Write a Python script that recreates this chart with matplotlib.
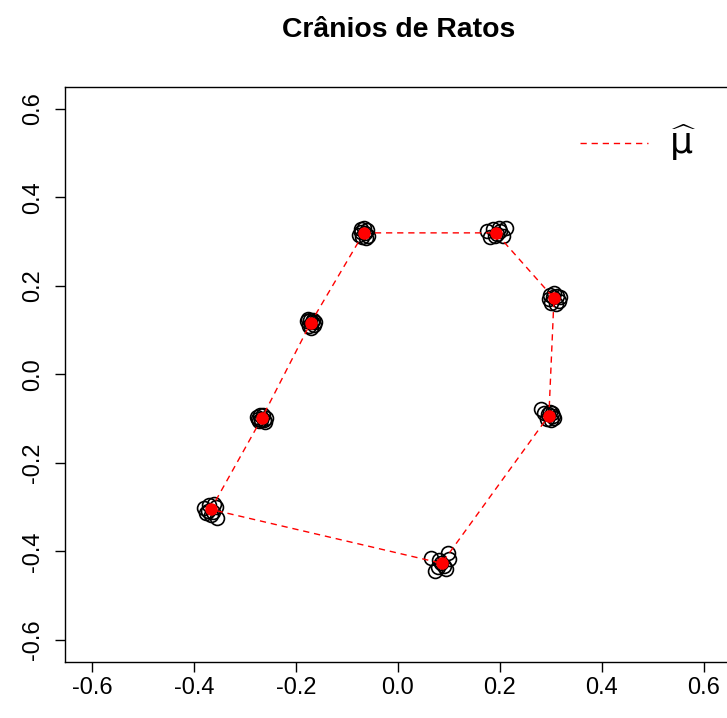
import matplotlib

matplotlib.use('Agg')

import matplotlib.pyplot as plt
import numpy as np

plt.rcParams['font.family'] = ['Liberation Sans', 'DejaVu Sans']

# coordenadas dos marcos anatomicos de cada cranio (um array por marco)
marco1_x = [-0.073, -0.066, -0.060, -0.076, -0.058, -0.070, -0.064, -0.072, -0.062]
marco1_y = [0.328, 0.332, 0.326, 0.316, 0.314, 0.310, 0.320, 0.322, 0.308]
marco2_x = [0.174, 0.180, 0.186, 0.194, 0.200, 0.206, 0.212, 0.190, 0.198]
marco2_y = [0.325, 0.310, 0.328, 0.318, 0.324, 0.312, 0.330, 0.312, 0.332]
marco3_x = [0.298, 0.312, 0.316, 0.300, 0.306, 0.296, 0.310, 0.304, 0.318]
marco3_y = [0.180, 0.178, 0.166, 0.162, 0.184, 0.170, 0.160, 0.174, 0.176]
marco4_x = [0.280, 0.286, 0.298, 0.304, 0.300, 0.292, 0.306, 0.294, 0.302]
marco4_y = [-0.078, -0.088, -0.084, -0.094, -0.104, -0.100, -0.098, -0.090, -0.088]
marco5_x = [0.064, 0.072, 0.078, 0.098, 0.100, 0.090, 0.084, 0.094, 0.080]
marco5_y = [-0.416, -0.444, -0.436, -0.404, -0.418, -0.432, -0.426, -0.440, -0.420]
marco6_x = [-0.380, -0.376, -0.370, -0.360, -0.356, -0.354, -0.366, -0.372, -0.362]
marco6_y = [-0.302, -0.314, -0.296, -0.292, -0.300, -0.324, -0.318, -0.308, -0.310]
marco7_x = [-0.276, -0.272, -0.264, -0.258, -0.260, -0.268, -0.270, -0.262, -0.274]
marco7_y = [-0.096, -0.106, -0.092, -0.098, -0.108, -0.102, -0.092, -0.104, -0.100]
marco8_x = [-0.178, -0.174, -0.166, -0.164, -0.170, -0.176, -0.168, -0.172, -0.162]
marco8_y = [0.120, 0.110, 0.124, 0.112, 0.106, 0.126, 0.118, 0.122, 0.118]

# forma media (mu chapeu)
media_x = [-0.067, 0.192, 0.306, 0.296, 0.086, -0.367, -0.267, -0.171]
media_y = [0.320, 0.320, 0.172, -0.093, -0.427, -0.305, -0.099, 0.117]

ticks = [-0.6, -0.4, -0.2, 0.0, 0.2, 0.4, 0.6]

todos_x = marco1_x + marco2_x + marco3_x + marco4_x + marco5_x + marco6_x + marco7_x + marco8_x
todos_y = marco1_y + marco2_y + marco3_y + marco4_y + marco5_y + marco6_y + marco7_y + marco8_y

fig = plt.figure(figsize=(7.27, 7.18), dpi=100)
ax = fig.add_axes([0.0894, 0.078, 0.916, 0.801])

ax.plot(todos_x, todos_y, 'o', mfc='none', mec='black', ms=10, mew=1.2, ls='none')

# poligono fechado ligando os marcos medios
px = media_x + media_x[:1]
py = media_y + media_y[:1]
ax.plot(px, py, color='red', lw=1.0, dashes=(4.5, 3.5))
ax.plot(media_x, media_y, 'o', color='red', ms=8, ls='none')

ax.set_xlim(-0.653, 0.653)
ax.set_ylim(-0.65, 0.65)
ax.set_xticks(ticks)
ax.set_yticks(ticks)
ax.set_xticklabels(['%.1f' % t if t != 0 else '0.0' for t in ticks])
ax.set_yticklabels(['%.1f' % t if t != 0 else '0.0' for t in ticks], rotation=90, va='center')
ax.tick_params(axis='both', direction='out', length=7, width=1, labelsize=17)
ax.tick_params(axis='x', pad=4)
ax.tick_params(axis='y', pad=8)
for s in ax.spines.values():
    s.set_linewidth(1)

# legenda
ax.plot([0.773, 0.875], [0.903, 0.903], transform=ax.transAxes, color='red', lw=1.0, dashes=(4.5, 3.5))
ax.text(0.928, 0.903, r'$\widehat{\mathrm{\mu}}$', transform=ax.transAxes, fontsize=26, ha='center', va='center')

fig.text(0.548, 0.958, 'Crânios de Ratos', ha='center', va='center', fontsize=20.4, fontweight='bold')

fig.savefig('out.png', dpi=100)
